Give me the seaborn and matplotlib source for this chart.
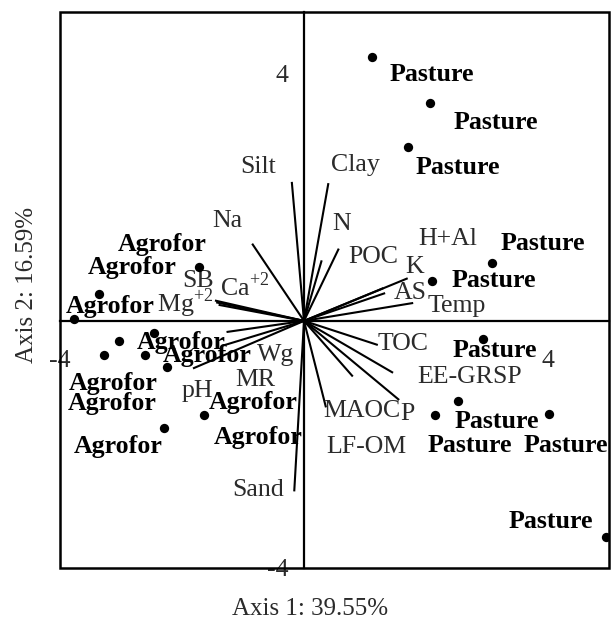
import numpy as np
import pandas as pd
import matplotlib
matplotlib.use("Agg")
import matplotlib.pyplot as plt
import seaborn as sns
from matplotlib.patches import Rectangle

# ---- data ----
pasture_x = [1.11, 2.07, 1.70, 3.08, 2.10, 2.93, 2.52, 2.15, 4.02, 4.95]
pasture_y = [4.27, 3.52, 2.81, 0.94, 0.65, -0.29, -1.29, -1.53, -1.50, -3.50]
agro_x = [-1.72, -3.36, -3.77, -2.46, -3.03, -3.28, -2.61, -2.25, -1.64, -2.30]
agro_y = [0.87, 0.44, 0.03, -0.19, -0.32, -0.55, -0.56, -0.74, -1.52, -1.74]

var_names = ["Silt", "Clay", "N", "POC", "H+Al", "K", "AS", "Temp", "TOC", "EE-GRSP",
             "LF-OM", "P", "MAOC", "Sand", "Na", "Ca$^{+2}$", "SB", "Mg$^{+2}$",
             "Wg", "MR", "pH"]
var_x = [-0.20, 0.40, 0.29, 0.57, 1.30, 1.70, 1.33, 1.79, 1.21, 1.46,
         0.80, 1.56, 0.36, -0.16, -0.85, -1.46, -1.44, -1.40,
         -1.27, -1.33, -1.82]
var_y = [2.25, 2.23, 0.98, 1.17, 0.53, 0.69, 0.45, 0.29, -0.39, -0.84,
         -0.90, -1.28, -1.40, -2.76, 1.25, 0.33, 0.30, 0.26,
         -0.18, -0.40, -0.77]

axis1_label = "Axis 1: 39.55%"
axis2_label = "Axis 2: 16.59%"

# ---- layout (label placement, in data units) ----
var_label_pos = {
    "Silt": (-0.75, 2.49), "Clay": (0.84, 2.52), "Na": (-1.25, 1.61), "N": (0.61, 1.57),
    "POC": (1.13, 1.03), "H+Al": (2.36, 1.33), "K": (1.82, 0.88), "AS": (1.74, 0.45),
    "Temp": (2.51, 0.24), "Ca$^{+2}$": (-0.97, 0.55), "SB": (-1.74, 0.64),
    "Mg$^{+2}$": (-1.95, 0.29), "Wg": (-0.46, -0.56), "MR": (-0.80, -0.96),
    "pH": (-1.74, -1.14), "TOC": (1.62, -0.37), "EE-GRSP": (2.72, -0.91),
    "MAOC": (0.95, -1.46), "P": (1.70, -1.51), "LF-OM": (1.03, -2.04), "Sand": (-0.75, -2.73),
}
# label offsets (pixels) for sample labels
pasture_off = [(60, -17), (66, -19), (50, -20), (51, 19), (62, 0), (12, -12),
               (39, -21), (35, -30), (17, -32), (-55, 16)]
agro_label_pos = [(-2.33, 1.24), (-2.82, 0.87), (-3.18, 0.24), (-2.01, -0.35),
                  (-3.12, -1.01), (-3.15, -1.33), (-0.75, -1.89), (-1.59, -0.56),
                  (-0.84, -1.32), (-3.05, -2.04)]

sns.set_style("white")
plt.rcParams["font.family"] = ["Liberation Serif", "DejaVu Serif"]
plt.rcParams["mathtext.fontset"] = "custom"
plt.rcParams["mathtext.rm"] = "Liberation Serif"

fig = plt.figure(figsize=(6.15, 6.24), dpi=100)
ax = fig.add_axes([60 / 615, 1 - 568 / 624, 549 / 615, 556 / 624])

df = pd.DataFrame({
    "x": pasture_x + agro_x,
    "y": pasture_y + agro_y,
    "group": ["Pasture"] * len(pasture_x) + ["Agrofor"] * len(agro_x),
})

# vectors
for nm, vx, vy in zip(var_names, var_x, var_y):
    ax.plot([0, vx], [0, vy], color="black", lw=1.5, solid_capstyle="butt", zorder=2)
    lx, ly = var_label_pos[nm]
    ax.text(lx, ly, nm, fontsize=18.6, color="#2b2b2b", ha="center", va="center", zorder=4)

sns.scatterplot(data=df, x="x", y="y", color="black", s=45, edgecolor="black",
                linewidth=0, legend=False, ax=ax, zorder=5)

for px, py, off in zip(pasture_x, pasture_y, pasture_off):
    ax.annotate("Pasture", (px, py), xytext=off, textcoords="offset pixels",
                ha="center", va="center", fontsize=18.6, fontweight="bold", color="black", zorder=6)
for (lx, ly) in agro_label_pos:
    ax.text(lx, ly, "Agrofor", ha="center", va="center", fontsize=18.6,
            fontweight="bold", color="black", zorder=6)

ax.set_xlim(-4, 5)
ax.set_ylim(-4, 5)

# crosshair spines
for s in ["top", "right"]:
    ax.spines[s].set_visible(False)
ax.spines["left"].set_position(("data", 0))
ax.spines["bottom"].set_position(("data", 0))
for s in ["left", "bottom"]:
    ax.spines[s].set_linewidth(1.6)
    ax.spines[s].set_color("black")

ticks = np.arange(-4, 6)
ax.set_xticks(ticks)
ax.set_yticks(ticks)
ax.set_xticklabels(["-4" if t == -4 else ("4" if t == 4 else "") for t in ticks])
ax.set_yticklabels(["-4" if t == -4 else ("4" if t == 4 else "") for t in ticks])
ax.tick_params(axis="both", direction="out", length=8, width=1.5, color="black",
               labelsize=18.6, labelcolor="#2b2b2b")
ax.tick_params(axis="x", pad=13)
ax.tick_params(axis="y", pad=3)
ax.set_xlabel("")
ax.set_ylabel("")

# outer box
ax.add_patch(Rectangle((0, 0), 1, 1, transform=ax.transAxes, fill=False,
                       edgecolor="black", lw=1.8, zorder=10, clip_on=False))

fig.text(310 / 615, 1 - 609 / 624, axis1_label, ha="center", va="center",
         fontsize=18, color="#2b2b2b")
fig.text(27 / 615, 1 - 285 / 624, axis2_label, ha="center", va="center",
         rotation=90, fontsize=18, color="#2b2b2b")

fig.savefig("out.png", dpi=100)
